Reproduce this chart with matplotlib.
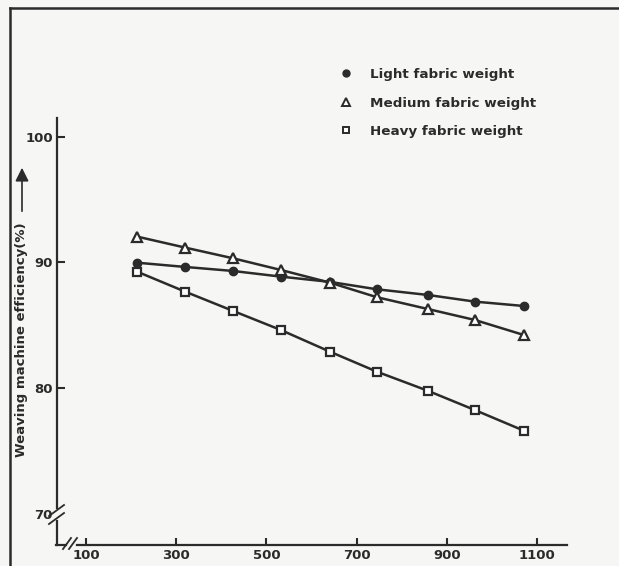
import numpy as np
import matplotlib
matplotlib.use("Agg")
import matplotlib.pyplot as plt
from matplotlib.lines import Line2D

# values
x_vals = [213, 320, 426, 532, 641, 745, 858, 962, 1071]
light = [89.98, 89.64, 89.32, 88.87, 88.45, 87.86, 87.41, 86.88, 86.53]
medium = [92.06, 91.18, 90.33, 89.40, 88.39, 87.23, 86.29, 85.42, 84.22]
heavy = [89.27, 87.67, 86.14, 84.62, 82.89, 81.30, 79.78, 78.25, 76.60]
labels = ["Light fabric weight", "Medium fabric weight", "Heavy fabric weight"]
x_ticks = [100, 300, 500, 700, 900, 1100]
y_ticks = [70, 80, 90, 100]

W, H = 619, 566
ink = "#2b2b2b"
paper = "#f6f6f4"

fig = plt.figure(figsize=(W / 100, H / 100), dpi=100, facecolor=paper)
ax = fig.add_axes([57 / W, 21 / H, (567 - 57) / W, (545 - 118) / H])
ax.set_facecolor(paper)

ax.plot(x_vals, light, color=ink, lw=1.8, marker="o", ms=6, mfc=ink, mec=ink)
ax.plot(x_vals, medium, color=ink, lw=1.8, marker="^", ms=7.5, mfc="white", mec=ink, mew=1.6)
ax.plot(x_vals, heavy, color=ink, lw=1.8, marker="s", ms=6, mfc="white", mec=ink, mew=1.6)

ax.set_xlim(35.7, 1166.5)
ax.set_ylim(67.5, 101.5)
ax.set_xticks(x_ticks)
ax.set_yticks(y_ticks)
ax.tick_params(axis="both", direction="in", colors=ink, width=1.5, labelsize=9.5)
ax.tick_params(axis="y", length=6, pad=3)
ax.tick_params(axis="x", length=5, pad=3)
ax.yaxis.get_major_ticks()[0].tick1line.set_visible(False)
for lab in ax.get_xticklabels() + ax.get_yticklabels():
    lab.set_fontweight("bold")
for s in ax.spines.values():
    s.set_visible(False)


def pline(x0, y0, x1, y1, lw=1.6):
    # decoration line in pixel coordinates of the figure
    fig.add_artist(Line2D([x0 / W, x1 / W], [1 - y0 / H, 1 - y1 / H],
                          color=ink, lw=lw, transform=fig.transFigure))


# broken axes
pline(57, 118, 57, 508)
pline(57, 521, 57, 545)
pline(56, 545, 66, 545)
pline(77, 545, 567, 545)
pline(49, 516, 64, 505, 1.3)
pline(49, 524, 64, 513, 1.3)
pline(63, 549, 71, 538, 1.3)
pline(69, 549, 77, 538, 1.3)

# outer frame of the scan
pline(10, 8, W, 8, 1.8)
pline(10, 8, 10, H, 1.8)

# y label with arrow
fig.text(22 / W, 1 - 340 / H, "Weaving machine efficiency(%)", rotation=90,
         ha="center", va="center", fontsize=9.5, fontweight="bold", color=ink)
fig.add_artist(matplotlib.patches.FancyArrowPatch(
    (22 / W, 1 - 214 / H), (22 / W, 1 - 165 / H), transform=fig.transFigure,
    arrowstyle="-|>,head_length=4,head_width=2", color=ink, lw=1.2, mutation_scale=2))

handles = [
    Line2D([], [], ls="none", marker="o", ms=5, mfc=ink, mec=ink),
    Line2D([], [], ls="none", marker="^", ms=6, mfc="white", mec=ink, mew=1.4),
    Line2D([], [], ls="none", marker="s", ms=5, mfc="white", mec=ink, mew=1.4),
]
leg = ax.legend(handles, labels, loc="upper left", bbox_to_anchor=(327 / W, 1 - 56 / H),
                bbox_transform=fig.transFigure, frameon=False, handlelength=1.0,
                handletextpad=1.3, labelspacing=1.15,
                prop={"size": 9.7, "weight": "bold"})
for t in leg.get_texts():
    t.set_color(ink)

fig.savefig("out.png", dpi=100, facecolor=paper)
